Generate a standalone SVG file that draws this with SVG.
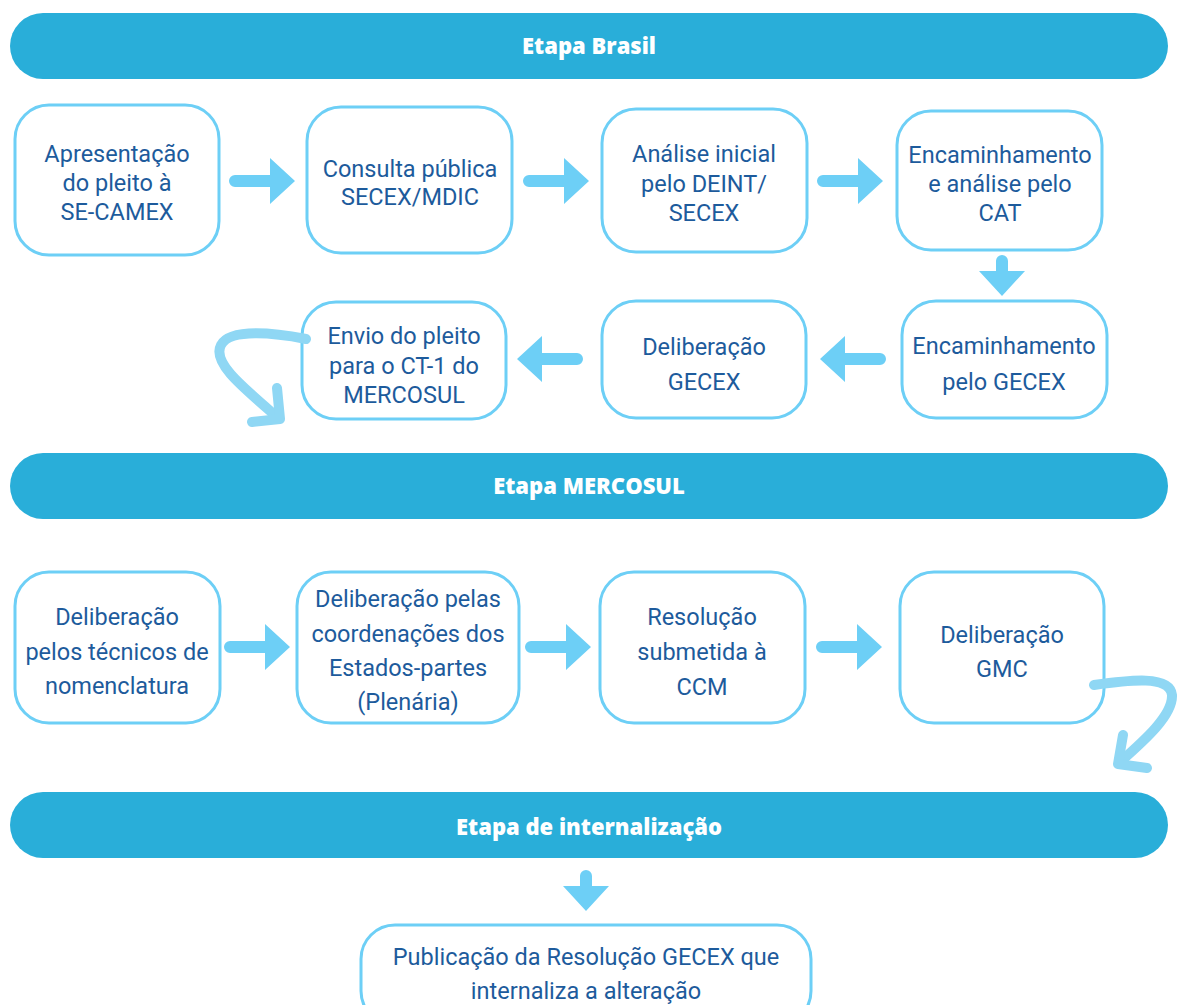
<svg xmlns="http://www.w3.org/2000/svg" width="1180" height="1005" viewBox="0 0 1180 1005">
<style>
.bn{fill:#29AED9}
.bt{font-family:"Open Sans","Noto Sans",sans-serif;font-weight:800;font-size:22px;fill:#fff;text-anchor:middle}
.bx{fill:#fff;stroke:#6DCFF6;stroke-width:3}
.tx{font-family:Roboto,"Noto Sans",sans-serif;font-weight:400;font-size:23.5px;fill:#1D5B9C;text-anchor:middle}
.ar{fill:#6DCFF6}
.cv{fill:none;stroke:#8FD7F4;stroke-width:10;stroke-linecap:round;stroke-linejoin:round}
</style>
<defs>
<path id="ah" d="M6,-6 H41 V-23 L66,0 L41,23 V6 H6 A6,6 0 0 1 6,-6 Z"/>
<path id="ad" d="M-6,6 A6,6 0 0 1 6,6 V16 H23 L0,41 L-23,16 H-6 Z"/>
</defs>
<rect width="1180" height="1005" fill="#fff"/>

<g id="banner-brasil"><rect class="bn" x="10" y="13" width="1158" height="66" rx="33"/><text class="bt" x="589" y="54">Etapa Brasil</text></g>
<g id="banner-mercosul"><rect class="bn" x="10" y="453" width="1158" height="66" rx="33"/><text class="bt" x="589" y="494">Etapa MERCOSUL</text></g>
<g id="banner-intern"><rect class="bn" x="10" y="792" width="1158" height="66" rx="33"/><text class="bt" x="589" y="835">Etapa de internalização</text></g>

<g id="n1"><rect class="bx" x="15" y="105" width="204" height="150" rx="34"/><text class="tx"><tspan x="117" y="162">Apresentação</tspan><tspan x="117" y="191">do pleito à</tspan><tspan x="117" y="220">SE-CAMEX</tspan></text></g>
<g id="n2"><rect class="bx" x="307" y="107" width="205" height="146" rx="34"/><text class="tx"><tspan x="410" y="177">Consulta pública</tspan><tspan x="410" y="205">SECEX/MDIC</tspan></text></g>
<g id="n3"><rect class="bx" x="602" y="109" width="205" height="143" rx="34"/><text class="tx"><tspan x="704" y="162">Análise inicial</tspan><tspan x="704" y="192">pelo DEINT/</tspan><tspan x="704" y="221">SECEX</tspan></text></g>
<g id="n4"><rect class="bx" x="897" y="111" width="205" height="139" rx="34"/><text class="tx"><tspan x="1000" y="163">Encaminhamento</tspan><tspan x="1000" y="192">e análise pelo</tspan><tspan x="1000" y="221">CAT</tspan></text></g>

<g id="n5"><rect class="bx" x="902" y="301" width="205" height="117" rx="34"/><text class="tx"><tspan x="1004" y="354">Encaminhamento</tspan><tspan x="1004" y="390">pelo GECEX</tspan></text></g>
<g id="n6"><rect class="bx" x="602" y="301" width="204" height="117" rx="34"/><text class="tx"><tspan x="704" y="355">Deliberação</tspan><tspan x="704" y="390">GECEX</tspan></text></g>
<g id="n7"><rect class="bx" x="302" y="302" width="204" height="117" rx="34"/><text class="tx"><tspan x="404" y="344">Envio do pleito</tspan><tspan x="404" y="374">para o CT-1 do</tspan><tspan x="404" y="403">MERCOSUL</tspan></text></g>

<g id="n8"><rect class="bx" x="15" y="572" width="205" height="151" rx="34"/><text class="tx"><tspan x="117" y="625">Deliberação</tspan><tspan x="117" y="660">pelos técnicos de</tspan><tspan x="117" y="694">nomenclatura</tspan></text></g>
<g id="n9"><rect class="bx" x="297" y="572" width="222" height="151" rx="34"/><text class="tx"><tspan x="408" y="607">Deliberação pelas</tspan><tspan x="408" y="642">coordenações dos</tspan><tspan x="408" y="676">Estados-partes</tspan><tspan x="408" y="710">(Plenária)</tspan></text></g>
<g id="n10"><rect class="bx" x="600" y="572" width="205" height="151" rx="34"/><text class="tx"><tspan x="702" y="625">Resolução</tspan><tspan x="702" y="660">submetida à</tspan><tspan x="702" y="695">CCM</tspan></text></g>
<g id="n11"><rect class="bx" x="900" y="572" width="204" height="151" rx="34"/><text class="tx"><tspan x="1002" y="643">Deliberação</tspan><tspan x="1002" y="677">GMC</tspan></text></g>

<g id="n12"><rect class="bx" x="361" y="925" width="450" height="100" rx="34"/><text class="tx"><tspan x="586" y="965">Publicação da Resolução GECEX que</tspan><tspan x="586" y="999">internaliza a alteração</tspan></text></g>

<g id="connectors">
<use href="#ah" class="ar" transform="translate(229,181)"/>
<use href="#ah" class="ar" transform="translate(523,181)"/>
<use href="#ah" class="ar" transform="translate(817,181)"/>
<use href="#ad" class="ar" transform="translate(1002,255)"/>
<use href="#ah" class="ar" transform="translate(886,359) rotate(180)"/>
<use href="#ah" class="ar" transform="translate(583,359) rotate(180)"/>
<path class="cv" d="M306,339 C275,333 230,328 221,345 C212,362 240,385 276,416"/>
<path class="cv" d="M277,388 L280,419 L252,422"/>
<use href="#ah" class="ar" transform="translate(224,647)"/>
<use href="#ah" class="ar" transform="translate(525,647)"/>
<use href="#ah" class="ar" transform="translate(816,647)"/>
<path class="cv" d="M1094,685 C1130,680 1170,675 1172,695 C1173,715 1145,740 1120,762"/>
<path class="cv" d="M1123,735 L1118,764 L1147,768"/>
<use href="#ad" class="ar" transform="translate(586,870)"/>
</g>
</svg>
